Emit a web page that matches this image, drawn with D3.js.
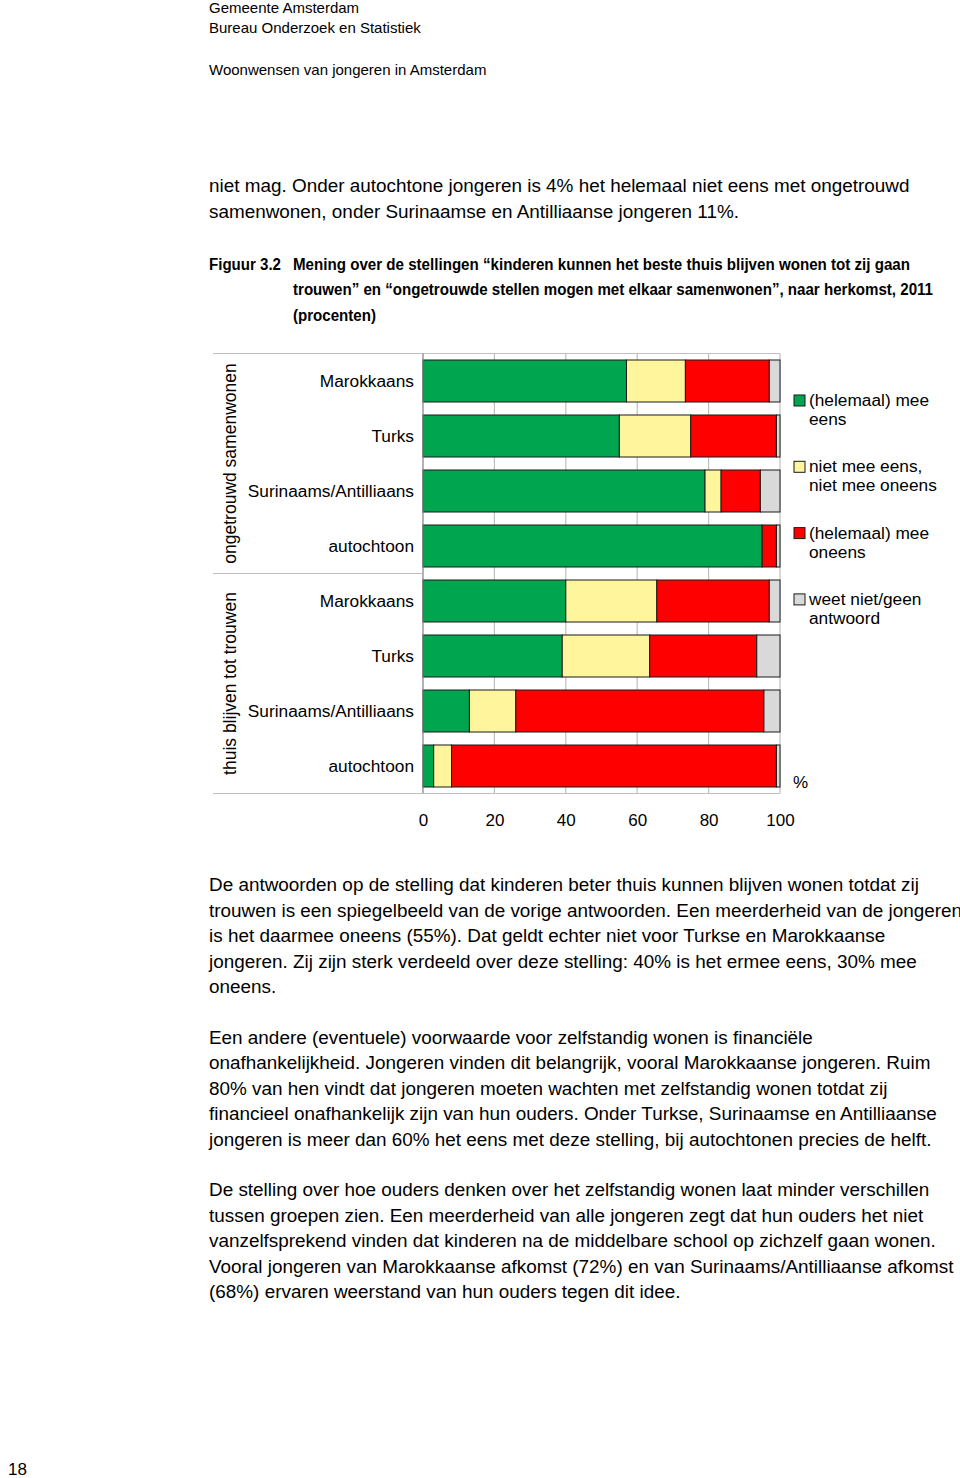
<!DOCTYPE html>
<html><head><meta charset="utf-8">
<script src="https://cdn.jsdelivr.net/npm/d3@7"></script>
<style>
body{margin:0;background:#fff;}
svg text{font-family:"Liberation Sans",Arial,Helvetica,sans-serif;fill:#000;}
</style></head><body>
<svg id="c" width="960" height="1478"></svg>
<script>
const groups = ["ongetrouwd samenwonen", "thuis blijven tot trouwen"];
const origins = ["Marokkaans", "Turks", "Surinaams/Antilliaans", "autochtoon"];
const seriesNames = ["(helemaal) mee eens", "niet mee eens, niet mee oneens", "(helemaal) mee oneens", "weet niet/geen antwoord"];
const legendLines = [["(helemaal) mee", "eens"], ["niet mee eens,", "niet mee oneens"], ["(helemaal) mee", "oneens"], ["weet niet/geen", "antwoord"]];
const seriesColors = ["#00a550", "#fff59d", "#ff0000", "#d9d9d9"];
// rows: ongetrouwd (Mar, Tur, Sur, aut), thuis blijven (Mar, Tur, Sur, aut)
const meeEens   = [57, 55, 79, 95, 40, 39, 13, 3];
const neutraal  = [16.5, 20, 4.5, 0, 25.5, 24.5, 13, 5];
const meeOneens = [23.5, 24, 11, 4, 31.5, 30, 69.5, 91];
const weetNiet  = [3, 1, 5.5, 1, 3, 6.5, 4.5, 1];
const xTicks = [0, 20, 40, 60, 80, 100];

const headerLines = [
  {t:"Gemeente Amsterdam", y:13},
  {t:"Bureau Onderzoek en Statistiek", y:33},
  {t:"Woonwensen van jongeren in Amsterdam", y:75}
];
const introLines = ["niet mag. Onder autochtone jongeren is 4% het helemaal niet eens met ongetrouwd",
  "samenwonen, onder Surinaamse en Antilliaanse jongeren 11%."];
const captionLines = ["Mening over de stellingen “kinderen kunnen het beste thuis blijven wonen tot zij gaan",
  "trouwen” en “ongetrouwde stellen mogen met elkaar samenwonen”, naar herkomst, 2011",
  "(procenten)"];
const captionWidths = [617, 640, 83];
const paragraphs = [
  ["De antwoorden op de stelling dat kinderen beter thuis kunnen blijven wonen totdat zij",
   "trouwen is een spiegelbeeld van de vorige antwoorden. Een meerderheid van de jongeren",
   "is het daarmee oneens (55%). Dat geldt echter niet voor Turkse en Marokkaanse",
   "jongeren. Zij zijn sterk verdeeld over deze stelling: 40% is het ermee eens, 30% mee",
   "oneens."],
  ["Een andere (eventuele) voorwaarde voor zelfstandig wonen is financiële",
   "onafhankelijkheid. Jongeren vinden dit belangrijk, vooral Marokkaanse jongeren. Ruim",
   "80% van hen vindt dat jongeren moeten wachten met zelfstandig wonen totdat zij",
   "financieel onafhankelijk zijn van hun ouders. Onder Turkse, Surinaamse en Antilliaanse",
   "jongeren is meer dan 60% het eens met deze stelling, bij autochtonen precies de helft."],
  ["De stelling over hoe ouders denken over het zelfstandig wonen laat minder verschillen",
   "tussen groepen zien. Een meerderheid van alle jongeren zegt dat hun ouders het niet",
   "vanzelfsprekend vinden dat kinderen na de middelbare school op zichzelf gaan wonen.",
   "Vooral jongeren van Marokkaanse afkomst (72%) en van Surinaams/Antilliaanse afkomst",
   "(68%) ervaren weerstand van hun ouders tegen dit idee."]
];

const svg = d3.select("#c");

// header
svg.selectAll("text.hdr").data(headerLines).join("text").attr("class","hdr")
  .attr("x",209).attr("y",d=>d.y).style("font-size","15px").text(d=>d.t);
svg.selectAll("text.intro").data(introLines).join("text").attr("class","intro")
  .attr("x",209).attr("y",(d,i)=>192+i*25.5).style("font-size","18.9px").text(d=>d);
svg.append("text").attr("x",209).attr("y",270)
  .attr("textLength",72).attr("lengthAdjust","spacingAndGlyphs")
  .style("font-weight","bold").style("font-size","16px").text("Figuur 3.2");
svg.selectAll("text.cap").data(captionLines).join("text").attr("class","cap")
  .attr("x",293).attr("y",(d,i)=>270+i*25.3)
  .attr("textLength",(d,i)=>captionWidths[i]).attr("lengthAdjust","spacingAndGlyphs")
  .style("font-weight","bold").style("font-size","16px").text(d=>d);

// chart
const rows = d3.range(8);
const x = d3.scaleLinear().domain([0,100]).range([423,780]);
const y = d3.scaleBand().domain(rows).range([353.5,793.5]).paddingInner(13/55).paddingOuter(13/110);
const gridColor = "#c0c0c0";

// gridlines
svg.append("g").selectAll("line").data(xTicks.slice(1)).join("line")
  .attr("x1",d=>x(d)).attr("x2",d=>x(d)).attr("y1",353.5).attr("y2",793.5)
  .attr("stroke",gridColor).attr("stroke-width",1.2);
svg.append("line").attr("x1",x(0)).attr("x2",x(100)).attr("y1",353.5).attr("y2",353.5).attr("stroke",gridColor).attr("stroke-width",1.2);

// stacked bars
const table = rows.map(i => ({row:i, s0:meeEens[i], s1:neutraal[i], s2:meeOneens[i], s3:weetNiet[i]}));
const stack = d3.stack().keys(["s0","s1","s2","s3"])(table);
svg.append("g").selectAll("g").data(stack).join("g")
  .attr("fill",(d,i)=>seriesColors[i])
  .selectAll("rect").data(d=>d.filter(v=>v[1]-v[0]>0)).join("rect")
  .attr("x",d=>x(d[0])).attr("width",d=>x(d[1])-x(d[0]))
  .attr("y",d=>y(d.data.row)).attr("height",y.bandwidth())
  .attr("stroke","#1a1a1a").attr("stroke-width",1);

// axes lines
const axisColor = "#808080";
svg.append("line").attr("x1",x(0)).attr("x2",x(0)).attr("y1",353.5).attr("y2",793.5).attr("stroke",axisColor).attr("stroke-width",1.2);
[353.5, 573.5, 793.5].forEach(yy=>{
  svg.append("line").attr("x1",213).attr("x2",x(0)).attr("y1",yy).attr("y2",yy).attr("stroke",gridColor).attr("stroke-width",1.2);
});
svg.append("line").attr("x1",x(0)).attr("x2",x(100)).attr("y1",793.5).attr("y2",793.5).attr("stroke",gridColor).attr("stroke-width",1.2);

// x axis via d3
const xAxis = d3.axisBottom(x).tickValues(xTicks).tickSize(0).tickPadding(0);
const gx = svg.append("g").attr("transform","translate(0,826)").call(xAxis);
gx.select(".domain").remove();
gx.selectAll("text").attr("dy",0).style("font-size","17px").style("font-family","'Liberation Sans',Arial,sans-serif").attr("fill","#000");

// category labels
svg.append("g").selectAll("text").data(rows).join("text")
  .attr("x",414).attr("y",d=>y(d)+y.bandwidth()/2+6)
  .attr("text-anchor","end").style("font-size","17.3px")
  .text(d=>origins[d%4]);

// group labels
svg.append("g").selectAll("text").data(groups).join("text")
  .attr("transform",(d,i)=>`translate(236,${y(i*4)+ (y(i*4+3)+y.bandwidth()-y(i*4))/2}) rotate(-90)`)
  .attr("text-anchor","middle").style("font-size","17.5px").text(d=>d);

// legend
const lg = svg.append("g").selectAll("g").data(legendLines).join("g")
  .attr("transform",(d,i)=>`translate(794,${395+i*66.3})`);
lg.append("rect").attr("x",0).attr("y",0).attr("width",11).attr("height",11)
  .attr("fill",(d,i)=>seriesColors[i]).attr("stroke","#1a1a1a").attr("stroke-width",1);
lg.selectAll("text").data(d=>d).join("text").attr("x",15).attr("y",(d,j)=>11+j*19)
  .style("font-size","17.3px").text(d=>d);

svg.append("text").attr("x",793).attr("y",788).style("font-size","17px").text("%");

// body paragraphs
paragraphs.forEach((p,pi)=>{
  svg.append("g").selectAll("text").data(p).join("text")
    .attr("x",209).attr("y",(d,i)=>891+pi*152.5+i*25.5).style("font-size","18.9px").text(d=>d);
});

svg.append("text").attr("x",8).attr("y",1475).style("font-size","17px").text("18");
</script>
</body></html>
